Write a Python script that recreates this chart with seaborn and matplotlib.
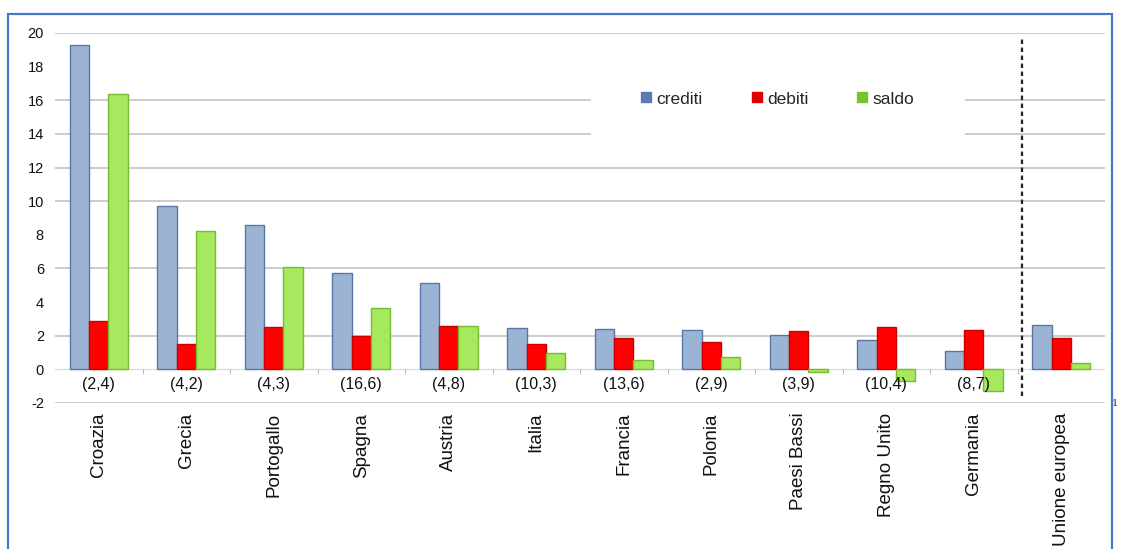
import numpy as np
import pandas as pd
import matplotlib
matplotlib.use("Agg")
import matplotlib.pyplot as plt
from matplotlib.lines import Line2D
from matplotlib.patches import Rectangle
import seaborn as sns

# ---- data ----
paesi = ["Croazia", "Grecia", "Portogallo", "Spagna", "Austria", "Italia",
         "Francia", "Polonia", "Paesi Bassi", "Regno Unito", "Germania",
         "Unione europea"]
crediti = [19.3, 9.7, 8.6, 5.7, 5.15, 2.47, 2.41, 2.33, 2.04, 1.74, 1.09, 2.61]
debiti = [2.9, 1.5, 2.5, 2.0, 2.6, 1.52, 1.88, 1.62, 2.30, 2.53, 2.37, 1.88]
saldo = [16.4, 8.2, 6.1, 3.65, 2.6, 0.95, 0.57, 0.75, -0.16, -0.70, -1.29, 0.37]
etichette = ["(2,4)", "(4,2)", "(4,3)", "(16,6)", "(4,8)", "(10,3)", "(13,6)",
             "(2,9)", "(3,9)", "(10,4)", "(8,7)", ""]
serie = ["crediti", "debiti", "saldo"]
yticks = list(range(-2, 21, 2))
grid_levels = [20, 16, 14, 12, 10, 6, 2, -2]

df = pd.DataFrame({"paese": paesi * 3,
                   "serie": np.repeat(serie, len(paesi)),
                   "valore": crediti + debiti + saldo})

fill = {"crediti": "#9cb4d4", "debiti": "#ff0000", "saldo": "#a6e85e"}
edge = {"crediti": "#5877a6", "debiti": "#c80000", "saldo": "#74bd30"}
legcol = {"crediti": "#5b7bb0", "debiti": "#dd0000", "saldo": "#74c42c"}

sns.set_style("white")
plt.rcParams["font.family"] = ["Liberation Sans", "DejaVu Sans"]

fig = plt.figure(figsize=(11.22, 5.49), dpi=100)
ax = fig.add_axes([55 / 1122, 1 - 403 / 549, 1050 / 1122, 370 / 549])

sns.barplot(data=df, x="paese", y="valore", hue="serie", order=paesi,
            hue_order=serie, palette=fill, width=0.66, gap=0,
            saturation=1, ax=ax, legend=False, zorder=3)
for cont, s in zip(ax.containers, serie):
    for p in cont:
        p.set_edgecolor(edge[s])
        p.set_linewidth(1.0)

# gridlines
for lv in grid_levels:
    ax.axhline(lv, color="#c4c4c4", lw=1.2, zorder=1)
ax.axhline(0, color="#dddddd", lw=1.0, zorder=1)
xs = np.arange(len(paesi))
ax.vlines(xs[:-1] + 0.5, -0.25, 0, color="#bbbbbb", lw=0.8, zorder=1)

# white mask behind legend
ax.add_patch(Rectangle((0.51, 0.70), 0.357, 0.16, transform=ax.transAxes,
                       facecolor="white", edgecolor="none", zorder=2))

# separator line
ax.vlines(10.55, -1.6, 19.85, color="#222222", lw=1.6,
          linestyles=(0, (2, 1.6)), zorder=4)

# parenthesis labels
for x, t in zip(xs, etichette):
    ax.text(x, -0.9, t, ha="center", va="center", fontsize=11.5,
            color="#111111", zorder=5)

ax.set_xlim(-0.5, len(paesi) - 0.5)
ax.set_ylim(-2, 20)
ax.set_yticks(yticks)
ax.set_yticklabels([str(v) for v in yticks], fontsize=10.5, color="#111111")
ax.set_xticks(xs)
ax.set_xticklabels(paesi, rotation=90, fontsize=13.5, color="#111111",
                   va="top", ha="center")
ax.tick_params(axis="x", length=0, pad=7)
ax.tick_params(axis="y", length=0, pad=8)
ax.set_xlabel("")
ax.set_ylabel("")
for sp in ax.spines.values():
    sp.set_visible(False)

handles = [Line2D([0], [0], marker="s", linestyle="none", markersize=6.5,
                  markerfacecolor=legcol[s], markeredgecolor=legcol[s],
                  label=s) for s in serie]
fig.legend(handles=handles, loc="center left", ncol=3, frameon=False,
           bbox_to_anchor=(634 / 1122, 1 - 99 / 549),
           bbox_transform=fig.transFigure, fontsize=12.5,
           handlelength=0.6, handletextpad=0.3, columnspacing=2.8,
           borderaxespad=0)

fig.text(1115 / 1122, 1 - 404 / 549, "1", fontsize=7, family="DejaVu Serif",
         ha="center", va="center")

# outer blue frame
fig.add_artist(Rectangle((8 / 1122, -0.05), 1104 / 1122, 1.05 - 14 / 549,
                         transform=fig.transFigure, fill=False,
                         edgecolor="#4a78c8", lw=1.6))

fig.savefig("out.png", dpi=100)
